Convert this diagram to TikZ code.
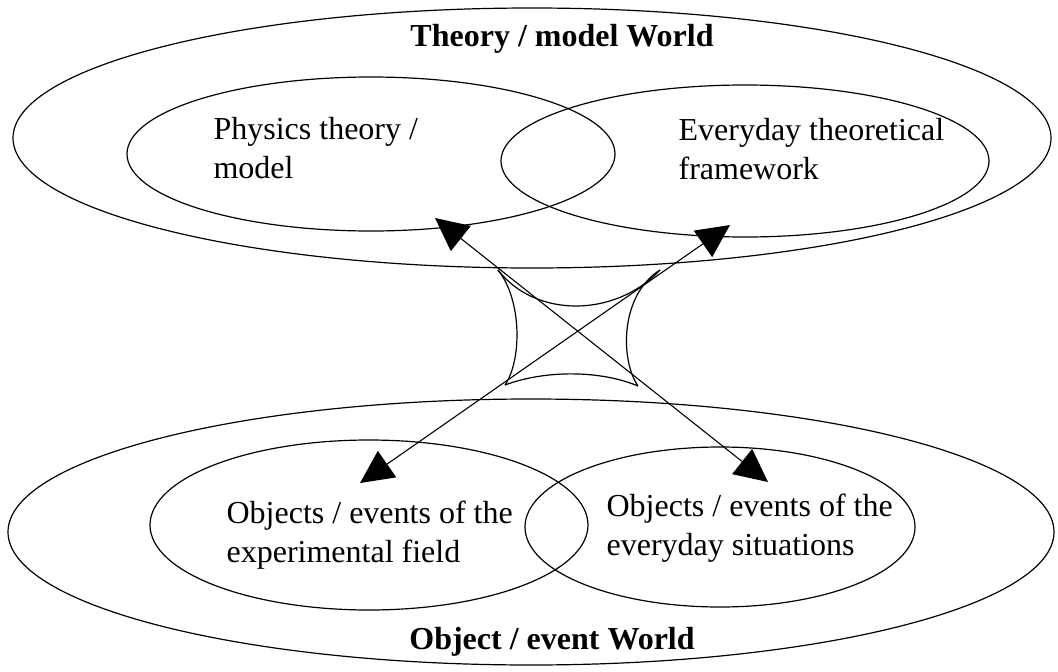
\documentclass[tikz,border=0pt]{standalone}
\usepackage{fontspec}
\setmainfont{Liberation Serif}
\usetikzlibrary{arrows.meta,shapes.geometric}

\begin{document}
\begin{tikzpicture}[x=1pt,y=-1pt,line width=1.2pt,
  world/.style={draw,ellipse,inner sep=0pt,outer sep=0pt},
  caption/.style={align=left,anchor=north west,inner sep=0pt,font=\fontsize{32}{39}\selectfont},
  heading/.style={anchor=north,inner sep=0pt,font=\fontsize{32}{38}\selectfont\bfseries},
  link/.style={{Triangle[length=33pt,width=32pt]}-{Triangle[length=33pt,width=32pt]},line width=1.1pt}]
\useasboundingbox (0,0) rectangle (1058,672);
\node[world,minimum width=1038pt,minimum height=260pt] (theoryworld) at (532,138) {};
\node[world,minimum width=488pt,minimum height=154pt] (physmodel) at (371,154) {};
\node[world,minimum width=488pt,minimum height=152pt] (dailyframe) at (745,161) {};
\node[world,minimum width=1046pt,minimum height=266pt] (objectworld) at (531,532) {};
\node[world,minimum width=438pt,minimum height=170pt] (expfield) at (369,525) {};
\node[world,minimum width=390pt,minimum height=160pt] (dailysit) at (720,527) {};
\node[heading] (theorytitle) at (562,24) {Theory / model World};
\node[heading] (objecttitle) at (552,627) {Object / event World};
\node[caption] (physlabel) at (213,117) {Physics theory /\\model};
\node[caption] (framelabel) at (678,118) {Everyday theoretical\\framework};
\node[caption] (explabel) at (226,500) {Objects / events of the\\experimental field};
\node[caption] (sitlabel) at (606,493) {Objects / events of the\\everyday situations};
\draw (498,270) .. controls (535,318) and (615,318) .. (660,270);
\draw (505,385) .. controls (545,370) and (600,370) .. (638,386);
\draw (498,270) .. controls (522,300) and (522,360) .. (505,385);
\draw (660,270) .. controls (620,295) and (620,360) .. (638,386);
\coordinate (physend) at (435,218);
\coordinate (sitend) at (768,482);
\coordinate (expend) at (360,483);
\coordinate (frameend) at (730,225);
\draw[link] (physend) -- (sitend);
\draw[link] (expend) -- (frameend);
\end{tikzpicture}
\end{document}
